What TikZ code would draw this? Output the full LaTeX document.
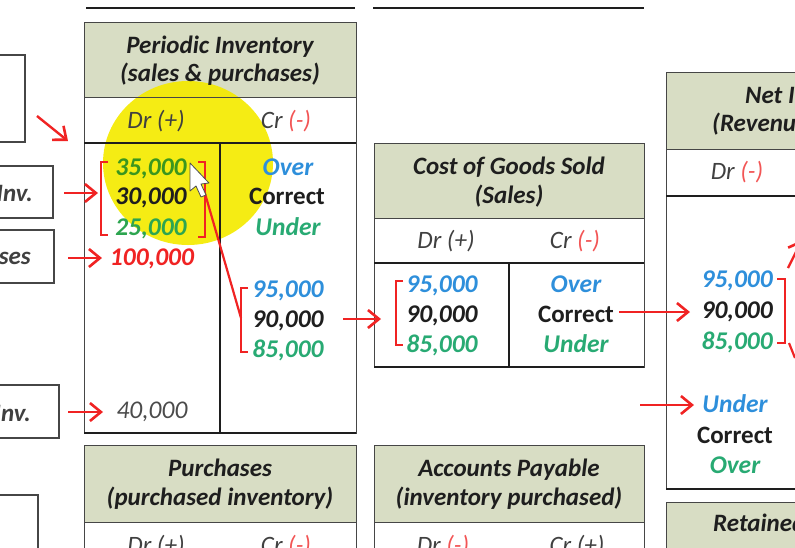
\documentclass[tikz,border=0pt]{standalone}
\usepackage{fontspec}
\setmainfont{Carlito}
\usetikzlibrary{arrows.meta}
\definecolor{hdrg}{RGB}{216,221,196}
\definecolor{nblue}{RGB}{46,143,219}
\definecolor{nteal}{RGB}{40,170,115}
\definecolor{ngreen}{RGB}{58,150,30}
\definecolor{ymix}{RGB}{45,165,80}
\definecolor{nred}{RGB}{240,35,35}
\definecolor{lred}{RGB}{242,85,85}
\definecolor{ink}{RGB}{30,30,30}
\definecolor{hl}{RGB}{244,234,0}
\definecolor{boxline}{RGB}{70,70,70}
\begin{document}
\begin{tikzpicture}[x=1pt,y=-1pt,
 hdrtxt/.style={font=\fontsize{25}{29}\selectfont\bfseries\itshape, text=ink, inner sep=0pt, anchor=base},
 drcr/.style={font=\fontsize{25}{29}\selectfont\itshape, text=ink!85, inner sep=0pt, anchor=base},
 num/.style={font=\fontsize{25.5}{29}\selectfont\bfseries\itshape, inner sep=0pt, anchor=base},
 cor/.style={font=\fontsize{25}{29}\selectfont\bfseries, text=ink, inner sep=0pt, anchor=base},
 lbl/.style={font=\fontsize{25}{29}\selectfont\bfseries\itshape, text=ink!85, inner sep=0pt, anchor=base east},
 hdrfill/.style={fill=hdrg, draw=boxline, line width=1pt},
 tframe/.style={draw=boxline, line width=1pt},
 thickln/.style={draw=ink, line width=2.4pt},
 sidebox/.style={draw=boxline, line width=1.5pt},
 arr/.style={draw=nred, line width=2.4pt, -{Straight Barb[length=11pt,width=18pt,line width=2.6pt]}},
 brk/.style={draw=nred, line width=2.2pt},
]
\useasboundingbox (0,0) rectangle (795,547);
\clip (0,0) rectangle (795,547);

% top rules
\draw[ink, line width=1.5pt] (86,8) -- (355,8);
\draw[ink, line width=1.5pt] (373,8) -- (644,8);

% left side boxes
\draw[sidebox] (-5,55) rectangle (25,142);
\draw[sidebox] (-5,166) rectangle (53,218);
\draw[sidebox] (-5,230) rectangle (54,283);
\draw[sidebox] (-5,385) rectangle (59,438);
\draw[sidebox] (-5,495) rectangle (38,560);
\node[lbl] (lbBeg) at (33,201) {Beg. Inv.};
\node[lbl] (lbPur) at (31,264) {Purchases};
\node[lbl] (lbEnd) at (31,421) {End. Inv.};

% header fills
\draw[hdrfill] (84,22) rectangle (356,97);
\draw[hdrfill] (374,143) rectangle (644,218);
\draw[hdrfill] (666,72) rectangle (820,149);
\draw[hdrfill] (666,502) rectangle (820,570);
\draw[hdrfill] (84,445) rectangle (356,522);
\draw[hdrfill] (374,445) rectangle (644,522);

% highlight
\fill[hl, opacity=0.92] (188,163) ellipse [x radius=85, y radius=82];

% Periodic inventory frame
\draw[tframe] (84,97) rectangle (356,433);
\draw[thickln] (84,143) -- (356,143);
\draw[thickln] (220,143) -- (220,433);
\draw[thickln] (84,433) -- (356,433);
% COGS frame
\draw[tframe] (374,218) rectangle (644,367);
\draw[thickln] (374,263) -- (644,263);
\draw[thickln] (509,263) -- (509,367);
\draw[thickln] (374,367) -- (644,367);
% Net income frame
\draw[tframe] (666,149) rectangle (820,489);
\draw[thickln] (666,196) -- (820,196);
\draw[thickln] (666,489) -- (820,489);
% Purchases / AP frames
\draw[tframe] (84,522) rectangle (356,570);
\draw[tframe] (374,522) rectangle (644,570);

% headers
\node[hdrtxt] (piH1) at (220,53) {Periodic Inventory};
\node[hdrtxt] (piH2) at (220,81) {(sales \& purchases)};
\node[hdrtxt] (cgH1) at (509,174) {Cost of Goods Sold};
\node[hdrtxt] (cgH2) at (509,203) {(Sales)};
\node[hdrtxt, anchor=base west] (niH1) at (745,103) {Net Income};
\node[hdrtxt, anchor=base west] (niH2) at (712,131) {(Revenues - Expenses)};
\node[hdrtxt, anchor=base west] (reH1) at (713,531) {Retained Earnings};
\node[hdrtxt] (puH1) at (220,476) {Purchases};
\node[hdrtxt] (puH2) at (220,505) {(purchased inventory)};
\node[hdrtxt] (apH1) at (509,476) {Accounts Payable};
\node[hdrtxt] (apH2) at (509,505) {(inventory purchased)};

% Dr / Cr
\node[drcr] (piDr) at (156,128) {Dr (+)};
\node[drcr] (piCr) at (286,128) {Cr \textcolor{lred}{(-)}};
\node[drcr] (cgDr) at (446,248) {Dr (+)};
\node[drcr] (cgCr) at (575,248) {Cr \textcolor{lred}{(-)}};
\node[drcr] (niDr) at (737,179) {Dr \textcolor{lred}{(-)}};
\node[drcr] (puDr) at (156,553) {Dr (+)};
\node[drcr] (puCr) at (286,553) {Cr \textcolor{lred}{(-)}};
\node[drcr] (apDr) at (443,553) {Dr \textcolor{lred}{(-)}};
\node[drcr] (apCr) at (577,553) {Cr (+)};

% Periodic inventory entries
\node[num, text=ngreen] (piA) at (151,175) {35,000};
\node[num, text=ink] (piB) at (151,204) {30,000};
\node[num, text=ymix] (piC) at (151,235) {25,000};
\node[num, text=nred] (piP) at (152,265) {100,000};
\node[num, text=ink!80, font=\fontsize{25.5}{29}\selectfont\itshape] (piE) at (152,418) {40,000};
\node[num, text=nblue] (piOv) at (288,175) {Over};
\node[cor] (piCo) at (287,204) {Correct};
\node[num, text=nteal] (piUn) at (288,235) {Under};
\node[num, text=nblue] (piX) at (288,297) {95,000};
\node[num, text=ink] (piY) at (288,327) {90,000};
\node[num, text=nteal] (piZ) at (288,357) {85,000};

% COGS entries
\node[num, text=nblue] (cgX) at (442,292) {95,000};
\node[num, text=ink] (cgY) at (442,322) {90,000};
\node[num, text=nteal] (cgZ) at (442,352) {85,000};
\node[num, text=nblue] (cgOv) at (576,292) {Over};
\node[cor] (cgCo) at (576,322) {Correct};
\node[num, text=nteal] (cgUn) at (576,352) {Under};

% Net income entries
\node[num, text=nblue, anchor=base east] (niX) at (773,287) {95,000};
\node[num, text=ink, anchor=base east] (niY) at (773,318) {90,000};
\node[num, text=nteal, anchor=base east] (niZ) at (773,349) {85,000};
\node[num, text=nblue] (niUn) at (735,412) {Under};
\node[cor] (niCo) at (735,443) {Correct};
\node[num, text=nteal] (niOv) at (735,473) {Over};

% brackets
\draw[brk] (108,162) -- (101,162) -- (101,235) -- (108,235);
\draw[brk] (198,162) -- (205,162) -- (205,237) -- (198,237);
\draw[brk] (248,288) -- (241,288) -- (241,352) -- (248,352);
\draw[brk] (403,281) -- (396,281) -- (396,345) -- (403,345);
\draw[brk] (777,279) -- (785,279) -- (785,343) -- (777,343);

% connector coordinates
\coordinate (dA) at (37,116);
\coordinate (dB) at (68,141);
\coordinate (bgS) at (64,193);
\coordinate (bgE) at (98,193);
\coordinate (puS) at (68,258);
\coordinate (puE) at (102,258);
\coordinate (enS) at (68,412);
\coordinate (enE) at (103,412);
\coordinate (lnS) at (204,190);
\coordinate (lnE) at (241,318);
\coordinate (pcS) at (343,319);
\coordinate (pcE) at (381,319);
\coordinate (cnS) at (619,312);
\coordinate (cnE) at (690,312);
\coordinate (unS) at (640,405);
\coordinate (unE) at (694,405);
\coordinate (niT1) at (788,268);
\coordinate (niT2) at (802,240);
\coordinate (niB1) at (789,343);
\coordinate (niB2) at (795,358);

% arrows
\draw[arr] (dA) -- (dB);
\draw[arr] (bgS) -- (bgE);
\draw[arr] (puS) -- (puE);
\draw[arr] (enS) -- (enE);
\draw[brk] (lnS) -- (lnE);
\draw[arr] (pcS) -- (pcE);
\draw[arr] (cnS) -- (cnE);
\draw[arr] (unS) -- (unE);
\draw[arr] (niT1) -- (niT2);
\draw[brk] (niB1) -- (niB2);

% mouse cursor
\draw[fill=white, draw=gray!60!black, line width=0.8pt, line join=round]
  (190,163) -- (190,191) -- (196,186) -- (201,197) -- (206,195) -- (201,184) -- (209,183) -- cycle;
\end{tikzpicture}
\end{document}
